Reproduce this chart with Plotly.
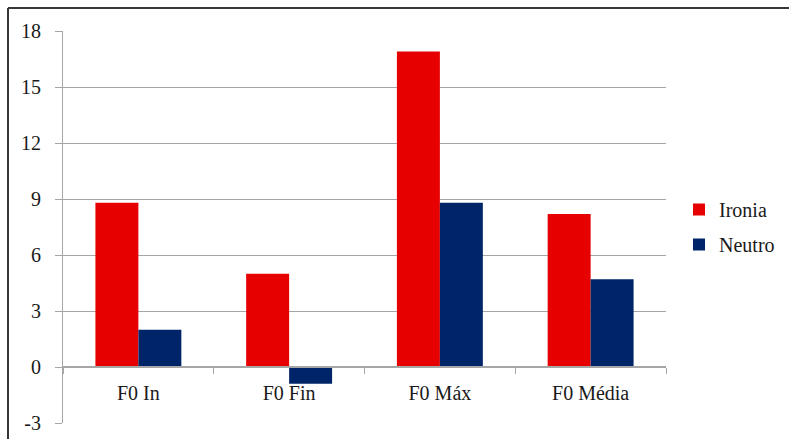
import plotly.graph_objects as go

categories = ["F0 In", "F0 Fin", "F0 Máx", "F0 Média"]
ironia = [8.8, 5.0, 16.9, 8.2]
neutro = [2.0, -0.9, 8.8, 4.7]
y_ticks = [-3, 0, 3, 6, 9, 12, 15, 18]
y_tick_labels = ["-3", "0", "3", "6", "9", "12", "15", "18"]

W, H = 789, 439
L, R, T, B = 63, 123, 31, 16
plot_w = W - L - R
plot_h = H - T - B
y_min, y_max = -3, 18

FONT = "Liberation Serif"
FS = 20
TEXT = "#1a1a1a"
GRID = "#a6a6a6"

fig = go.Figure()
fig.add_trace(go.Bar(x=categories, y=ironia, name="Ironia",
                     marker=dict(color="#e60000", line=dict(width=0)),
                     legendgroup="a"))
fig.add_trace(go.Bar(x=categories, y=neutro, name="Neutro",
                     marker=dict(color="#002468", line=dict(width=0)),
                     legendgroup="b"))

def px_to_paper_x(px):
    return (px - L) / plot_w

def px_to_paper_y(py):
    return (H - B - py) / plot_h

# outer frame (left and top edges)
frame = dict(color="#3a3636", width=2)
shapes = [
    dict(type="line", xref="paper", yref="paper",
         x0=px_to_paper_x(8), x1=px_to_paper_x(W + 5),
         y0=px_to_paper_y(8), y1=px_to_paper_y(8), line=frame),
    dict(type="line", xref="paper", yref="paper",
         x0=px_to_paper_x(8), x1=px_to_paper_x(8),
         y0=px_to_paper_y(8), y1=px_to_paper_y(H + 5), line=frame),
]

fig.update_layout(
    width=W, height=H,
    margin=dict(l=L, r=R, t=T, b=B, pad=0, autoexpand=False),
    paper_bgcolor="white", plot_bgcolor="white",
    font=dict(family=FONT, size=FS, color=TEXT),
    barmode="group", bargap=0.43, bargroupgap=0,
    shapes=shapes,
    showlegend=True,
    legend=dict(x=px_to_paper_x(679), y=px_to_paper_y(190), xanchor="left", yanchor="top",
                traceorder="grouped", tracegroupgap=6,
                font=dict(family=FONT, size=FS, color=TEXT),
                itemwidth=30, bgcolor="rgba(0,0,0,0)"),
    xaxis=dict(
        anchor="free", position=(0 - y_min) / (y_max - y_min),
        automargin=False,
        showline=True, linecolor=GRID, linewidth=2,
        ticks="outside", tickson="boundaries", ticklen=6, tickcolor=GRID, tickwidth=1,
        ticklabelstandoff=8,
        showgrid=False, zeroline=False,
        tickfont=dict(family=FONT, size=FS, color=TEXT),
    ),
    yaxis=dict(
        range=[y_min, y_max], tickvals=y_ticks, ticktext=y_tick_labels,
        automargin=False,
        showline=True, linecolor=GRID, linewidth=1,
        ticks="outside", ticklen=7, tickcolor=GRID,
        ticklabelstandoff=10,
        showgrid=True, gridcolor=GRID, gridwidth=1,
        zeroline=False,
        tickfont=dict(family=FONT, size=FS, color=TEXT),
    ),
)

fig.write_html("out.html")
